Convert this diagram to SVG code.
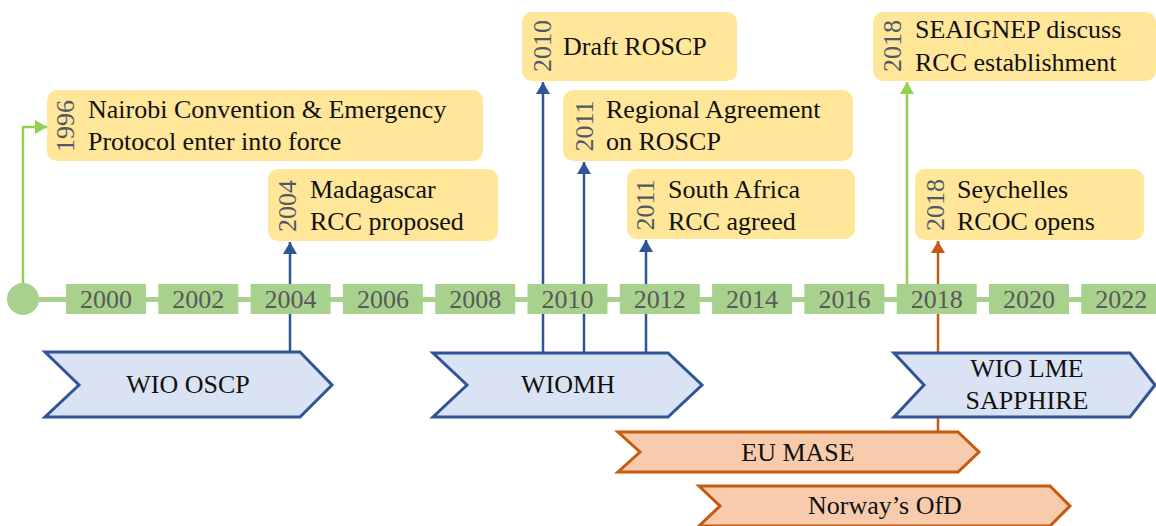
<svg xmlns="http://www.w3.org/2000/svg" width="1156" height="526" viewBox="0 0 1156 526">
<style>
text{font-family:'Liberation Serif','Times New Roman',Times,Tinos,'Nimbus Roman','Noto Serif','DejaVu Serif',FreeSerif,serif;font-size:26px;}
.ev{fill:#ffe699;}
.t{fill:#111;}
.vy{fill:#4f5868;text-anchor:middle;dominant-baseline:central;}
.yr{fill:#a9d18e;}
.yt{fill:#595959;text-anchor:middle;}
.blue{fill:#dae3f3;stroke:#2f5597;stroke-width:3;stroke-linejoin:miter;}
.org{fill:#f8cbad;stroke:#c55a11;stroke-width:3;stroke-linejoin:miter;}
.ct{fill:#111;text-anchor:middle;}
.cb{fill:none;stroke:#2f5597;stroke-width:2.5;marker-end:url(#ab);}
.cg{fill:none;stroke:#92d050;stroke-width:2.5;marker-end:url(#ag);}
.co{fill:none;stroke:#c55a11;stroke-width:2.5;marker-end:url(#ao);}
</style>
<defs>
<marker id="ab" viewBox="0 0 12 14" refX="12" refY="7" markerWidth="12" markerHeight="14" orient="auto" markerUnits="userSpaceOnUse"><path d="M0,0 L12,7 L0,14 z" fill="#2f5597"/></marker>
<marker id="ag" viewBox="0 0 12 14" refX="12" refY="7" markerWidth="12" markerHeight="14" orient="auto" markerUnits="userSpaceOnUse"><path d="M0,0 L12,7 L0,14 z" fill="#92d050"/></marker>
<marker id="ao" viewBox="0 0 12 14" refX="12" refY="7" markerWidth="12" markerHeight="14" orient="auto" markerUnits="userSpaceOnUse"><path d="M0,0 L12,7 L0,14 z" fill="#c55a11"/></marker>
</defs>
<rect width="1156" height="526" fill="#ffffff"/>
<g id="connectors">
<path class="cg" d="M23,299 V127 H47"/>
<path class="cb" d="M290,352 V242"/>
<path class="cb" d="M543,352 V82"/>
<path class="cb" d="M584,352 V162"/>
<path class="cb" d="M646,352 V240"/>
<path class="cg" d="M907,299 V82"/>
<path class="co" d="M938,433 V241"/>
</g>
<g id="timeline">
<line x1="23" y1="299.5" x2="1156" y2="299.5" stroke="#a9d18e" stroke-width="5"/>
<circle cx="23" cy="299" r="16" fill="#a9d18e"/>
<rect class="yr" x="66" y="284" width="80" height="30"/><text class="yt" x="106" y="308">2000</text>
<rect class="yr" x="158.3" y="284" width="80" height="30"/><text class="yt" x="198.3" y="308">2002</text>
<rect class="yr" x="250.6" y="284" width="80" height="30"/><text class="yt" x="290.6" y="308">2004</text>
<rect class="yr" x="342.9" y="284" width="80" height="30"/><text class="yt" x="382.9" y="308">2006</text>
<rect class="yr" x="435.2" y="284" width="80" height="30"/><text class="yt" x="475.2" y="308">2008</text>
<rect class="yr" x="527.5" y="284" width="80" height="30"/><text class="yt" x="567.5" y="308">2010</text>
<rect class="yr" x="619.8" y="284" width="80" height="30"/><text class="yt" x="659.8" y="308">2012</text>
<rect class="yr" x="712.1" y="284" width="80" height="30"/><text class="yt" x="752.1" y="308">2014</text>
<rect class="yr" x="804.4" y="284" width="80" height="30"/><text class="yt" x="844.4" y="308">2016</text>
<rect class="yr" x="896.7" y="284" width="80" height="30"/><text class="yt" x="936.7" y="308">2018</text>
<rect class="yr" x="989" y="284" width="80" height="30"/><text class="yt" x="1029" y="308">2020</text>
<rect class="yr" x="1081.3" y="284" width="80" height="30"/><text class="yt" x="1121.3" y="308">2022</text>
</g>
<g id="e1996">
<rect class="ev" x="47" y="90" width="436" height="71" rx="10"/>
<text class="vy" transform="translate(65,126) rotate(-90)">1996</text>
<text class="t" x="88" y="118">Nairobi Convention &amp; Emergency</text>
<text class="t" x="88" y="150">Protocol enter into force</text>
</g>
<g id="e2004">
<rect class="ev" x="268" y="169" width="230" height="72" rx="10"/>
<text class="vy" transform="translate(287,206) rotate(-90)">2004</text>
<text class="t" x="310" y="198">Madagascar</text>
<text class="t" x="310" y="230">RCC proposed</text>
</g>
<g id="e2010">
<rect class="ev" x="522" y="12" width="215" height="69" rx="10"/>
<text class="vy" transform="translate(542,46) rotate(-90)">2010</text>
<text class="t" x="563" y="55">Draft ROSCP</text>
</g>
<g id="e2011a">
<rect class="ev" x="563" y="90" width="290" height="71" rx="10"/>
<text class="vy" transform="translate(584,126) rotate(-90)">2011</text>
<text class="t" x="606" y="118">Regional Agreement</text>
<text class="t" x="606" y="150">on ROSCP</text>
</g>
<g id="e2011b">
<rect class="ev" x="627" y="169" width="228" height="70" rx="10"/>
<text class="vy" transform="translate(645,205) rotate(-90)">2011</text>
<text class="t" x="668" y="198">South Africa</text>
<text class="t" x="668" y="230">RCC agreed</text>
</g>
<g id="e2018a">
<rect class="ev" x="873" y="12" width="283" height="69" rx="10"/>
<text class="vy" transform="translate(892,46) rotate(-90)">2018</text>
<text class="t" x="915" y="38">SEAIGNEP discuss</text>
<text class="t" x="915" y="71">RCC establishment</text>
</g>
<g id="e2018b">
<rect class="ev" x="915" y="169" width="229" height="71" rx="10"/>
<text class="vy" transform="translate(935,205) rotate(-90)">2018</text>
<text class="t" x="957" y="198">Seychelles</text>
<text class="t" x="957" y="230">RCOC opens</text>
</g>
<g id="wio-oscp">
<path class="blue" d="M45,352 H300 L332,385 L300,417 H45 L79,385 Z"/>
<text class="ct" x="188" y="393">WIO OSCP</text>
</g>
<g id="wiomh">
<path class="blue" d="M433,353 H668 L702,385 L668,417 H433 L467,385 Z"/>
<text class="ct" x="568" y="393">WIOMH</text>
</g>
<g id="wio-lme">
<path class="blue" d="M894,353 H1130 L1155,385 L1130,417 H894 L924,385 Z"/>
<text class="ct" x="1027" y="377">WIO LME</text>
<text class="ct" x="1027" y="409">SAPPHIRE</text>
</g>
<g id="eu-mase">
<path class="org" d="M618,432 H958 L979,452 L958,472 H618 L640,452 Z"/>
<text class="ct" x="798" y="461">EU MASE</text>
</g>
<g id="norway">
<path class="org" d="M699,486 H1050 L1070,506 L1050,526 H699 L720,506 Z"/>
<text class="ct" x="885" y="514">Norway’s OfD</text>
</g>
</svg>
